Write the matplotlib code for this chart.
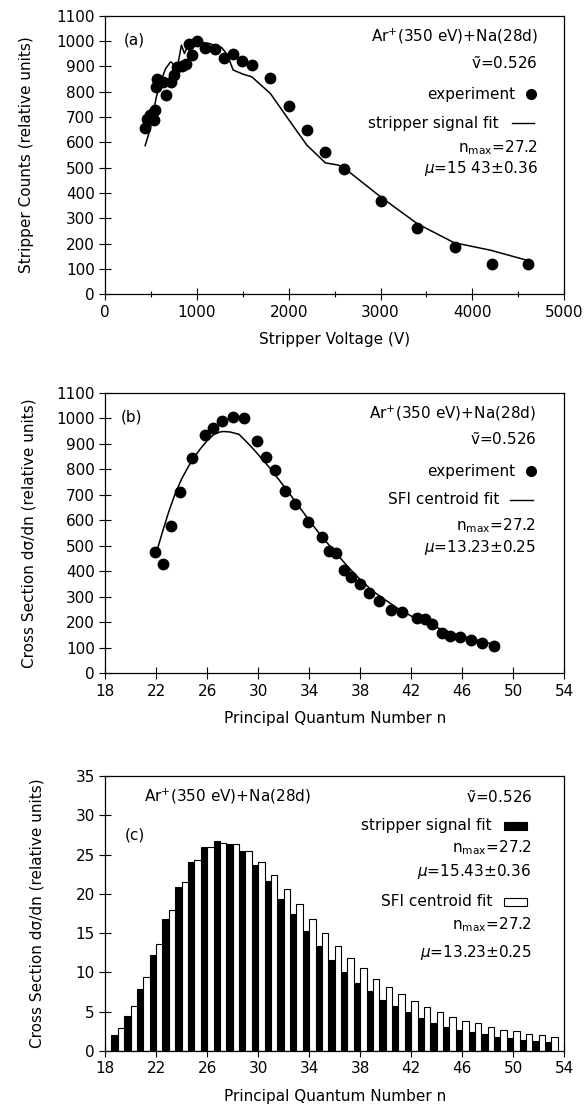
import numpy as np
import matplotlib.pyplot as plt
from matplotlib.patches import Rectangle

# panel (a): stripper counts vs stripper voltage
volt_exp = [436, 456, 485, 509, 530, 542, 550, 566, 632, 668, 721, 750, 786, 835, 880, 913,
            949, 998, 1092, 1194, 1296, 1394, 1496, 1597, 1797, 2001, 2200, 2400, 2604,
            3003, 3402, 3806, 4209, 4609]
counts_exp = [658, 692, 708, 714, 688, 728, 817, 849, 839, 789, 839, 866, 899, 903, 908, 987,
              945, 1000, 974, 967, 934, 947, 921, 905, 853, 745, 650, 563, 493,
              368, 263, 187, 121, 121]
volt_fit = [436, 477, 497, 530, 558, 599, 632, 660, 713, 729, 762, 795, 831, 864, 896, 925,
            966, 1006, 1129, 1271, 1332, 1394, 1496, 1597, 1800, 2017, 2198, 2399, 2544,
            2635, 3000, 3400, 3800, 4200, 4600]
counts_fit = [587, 636, 662, 728, 780, 826, 866, 892, 918, 914, 899, 912, 984, 951, 978, 951,
              991, 997, 991, 974, 945, 886, 870, 859, 793, 681, 589, 519, 510,
              490, 385, 279, 204, 174, 134]

# panel (b): cross section vs n
n_exp = [21.95, 22.54, 23.18, 23.91, 24.79, 25.84, 26.46, 27.16, 28.0, 28.89, 29.91, 30.61,
         31.35, 32.08, 32.93, 33.92, 35.03, 35.53, 36.11, 36.70, 37.32, 37.99, 38.72, 39.51,
         40.39, 41.32, 42.49, 43.05, 43.67, 44.40, 45.04, 45.80, 46.68, 47.59, 48.49]
cs_exp = [477, 429, 576, 711, 843, 936, 961, 989, 1004, 1000, 911, 849,
          797, 716, 663, 593, 535, 480, 471, 405, 379, 351, 315, 283,
          247, 239, 219, 212, 192, 160, 147, 144, 132, 120, 107]
n_fit = [22.1, 22.5, 23.0, 23.5, 24.0, 24.5, 25.0, 25.5, 26.0, 26.5, 27.0, 27.3, 27.8, 28.5,
         29.0, 29.5, 30.0, 31.0, 32.0, 33.0, 34.0, 35.0, 36.0, 37.0, 38.0, 39.0, 40.0, 41.0,
         42.0, 43.0, 44.0, 45.0, 46.0, 47.0, 48.0, 48.5]
cs_fit = [487, 555, 635, 705, 762, 808, 848, 882, 912, 935, 946, 948, 946, 937,
          912, 886, 858, 800, 735, 668, 600, 535, 478, 420, 368, 322, 287, 253,
          225, 200, 180, 162, 146, 133, 120, 113]

# panel (c): histograms
n_bar = list(range(19, 54))
stripper = [2.0, 4.4, 7.9, 12.2, 16.8, 20.9, 24.0, 25.9, 26.7, 26.4, 25.4, 23.7, 21.6, 19.4,
            17.4, 15.3, 13.3, 11.6, 10.1, 8.7, 7.6, 6.5, 5.7, 4.9, 4.2, 3.6, 3.1, 2.7, 2.4,
            2.1, 1.8, 1.6, 1.4, 1.3, 1.1]
sfi = [2.9, 5.7, 9.4, 13.6, 17.9, 21.5, 24.3, 25.9, 26.5, 26.4, 25.5, 24.1, 22.4, 20.6,
       18.7, 16.8, 15.0, 13.3, 11.8, 10.5, 9.2, 8.1, 7.3, 6.3, 5.6, 5.0, 4.3, 3.8, 3.5,
       3.0, 2.7, 2.5, 2.2, 2.0, 1.8]

plt.rcParams['font.family'] = 'DejaVu Sans'
plt.rcParams['mathtext.fontset'] = 'dejavusans'
fs = 11

fig = plt.figure(figsize=(5.84, 11.09), dpi=100)
ax_a = fig.add_axes([0.180, 0.7346, 0.786, 0.2512])
ax_b = fig.add_axes([0.180, 0.3928, 0.786, 0.2531])
ax_c = fig.add_axes([0.180, 0.0523, 0.786, 0.2480])


def style(ax):
    ax.tick_params(direction='inout', length=8, width=0.8, labelsize=fs, top=False, right=False)
    ax.tick_params(which='minor', direction='inout', length=5, width=0.8, top=False, right=False)
    for s in ax.spines.values():
        s.set_linewidth(0.9)


def rtext(ax, x, y, s, **kw):
    ax.text(x, y, s, transform=ax.transAxes, ha='right', va='center', fontsize=fs, **kw)


# ---- (a)
ax_a.plot(volt_fit, counts_fit, color='black', lw=1.1)
ax_a.plot(volt_exp, counts_exp, 'o', color='black', ms=7.5)
ax_a.set_xlim(0, 5000)
ax_a.set_ylim(0, 1100)
ax_a.set_xticks(np.arange(0, 5001, 1000))
ax_a.set_xticks(np.arange(500, 5000, 1000), minor=True)
ax_a.set_yticks(np.arange(0, 1101, 100))
style(ax_a)
ax_a.set_xlabel('Stripper Voltage (V)', fontsize=fs, labelpad=9)
ax_a.set_ylabel('Stripper Counts (relative units)', fontsize=fs, labelpad=16)
ax_a.text(0.063, 0.913, '(a)', transform=ax_a.transAxes, ha='center', va='center', fontsize=fs)
rtext(ax_a, 0.943, 0.925, r'Ar$^{+}$(350 eV)+Na(28d)')
rtext(ax_a, 0.943, 0.83, r'$\tilde{\mathrm{v}}$=0.526')
rtext(ax_a, 0.894, 0.718, 'experiment')
ax_a.plot([0.927], [0.718], 'o', color='black', ms=7, transform=ax_a.transAxes)
rtext(ax_a, 0.857, 0.615, 'stripper signal fit')
ax_a.plot([0.886, 0.935], [0.615, 0.615], color='black', lw=1, transform=ax_a.transAxes)
rtext(ax_a, 0.943, 0.528, r'n$_{\mathrm{max}}$=27.2')
rtext(ax_a, 0.943, 0.453, r'$\mu$=15 43±0.36')

# ---- (b)
ax_b.plot(n_fit, cs_fit, color='black', lw=1.1)
ax_b.plot(n_exp, cs_exp, 'o', color='black', ms=7.5)
ax_b.set_xlim(18, 54)
ax_b.set_ylim(0, 1100)
ax_b.set_xticks(np.arange(18, 55, 4))
ax_b.set_yticks(np.arange(0, 1101, 100))
style(ax_b)
ax_b.set_xlabel('Principal Quantum Number n', fontsize=fs, labelpad=9)
ax_b.set_ylabel('Cross Section dσ/dn (relative units)', fontsize=fs, labelpad=14)
ax_b.text(0.057, 0.915, '(b)', transform=ax_b.transAxes, ha='center', va='center', fontsize=fs)
rtext(ax_b, 0.939, 0.927, r'Ar$^{+}$(350 eV)+Na(28d)')
rtext(ax_b, 0.939, 0.834, r'$\tilde{\mathrm{v}}$=0.526')
rtext(ax_b, 0.894, 0.721, 'experiment')
ax_b.plot([0.927], [0.721], 'o', color='black', ms=7, transform=ax_b.transAxes)
rtext(ax_b, 0.858, 0.618, 'SFI centroid fit')
ax_b.plot([0.882, 0.933], [0.618, 0.618], color='black', lw=1, transform=ax_b.transAxes)
rtext(ax_b, 0.939, 0.527, r'n$_{\mathrm{max}}$=27.2')
rtext(ax_b, 0.939, 0.448, r'$\mu$=13.23±0.25')

# ---- (c)
nb = np.array(n_bar)
ax_c.bar(nb - 0.25, stripper, width=0.5, color='black', edgecolor='black', lw=0.8)
ax_c.bar(nb + 0.25, sfi, width=0.5, color='white', edgecolor='black', lw=0.8)
ax_c.set_xlim(18, 54)
ax_c.set_ylim(0, 35)
ax_c.set_xticks(np.arange(18, 55, 4))
ax_c.set_yticks(np.arange(0, 36, 5))
style(ax_c)
ax_c.set_xlabel('Principal Quantum Number n', fontsize=fs, labelpad=9)
ax_c.set_ylabel('Cross Section dσ/dn (relative units)', fontsize=fs, labelpad=22)
ax_c.text(0.084, 0.927, r'Ar$^{+}$(350 eV)+Na(28d)', transform=ax_c.transAxes,
          ha='left', va='center', fontsize=fs)
rtext(ax_c, 0.930, 0.922, r'$\tilde{\mathrm{v}}$=0.526')
ax_c.text(0.065, 0.786, '(c)', transform=ax_c.transAxes, ha='center', va='center', fontsize=fs)
rtext(ax_c, 0.843, 0.819, 'stripper signal fit')
ax_c.add_patch(Rectangle((0.868, 0.805), 0.052, 0.028, transform=ax_c.transAxes,
                         facecolor='black', edgecolor='black', lw=0.8))
rtext(ax_c, 0.929, 0.738, r'n$_{\mathrm{max}}$=27.2')
rtext(ax_c, 0.929, 0.653, r'$\mu$=15.43±0.36')
rtext(ax_c, 0.843, 0.542, 'SFI centroid fit')
ax_c.add_patch(Rectangle((0.868, 0.528), 0.052, 0.028, transform=ax_c.transAxes,
                         facecolor='white', edgecolor='black', lw=0.8))
rtext(ax_c, 0.929, 0.459, r'n$_{\mathrm{max}}$=27.2')
rtext(ax_c, 0.929, 0.357, r'$\mu$=13.23±0.25')

fig.savefig('out.png', dpi=100)
